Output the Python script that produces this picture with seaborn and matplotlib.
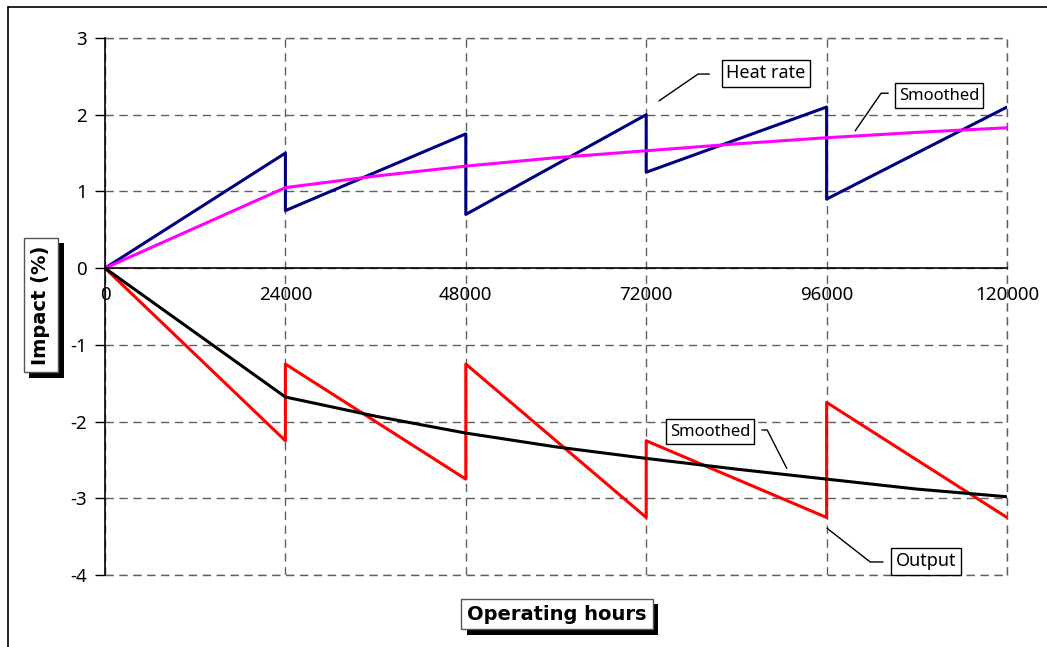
import numpy as np
import pandas as pd
import seaborn as sns
import matplotlib.pyplot as plt
import matplotlib.patheffects as pe
from matplotlib.lines import Line2D

# --- data ---
heat_hours = [0, 24000, 24000, 48000, 48000, 72000, 72000, 96000, 96000, 120000]
heat_rate = [0, 1.5, 0.75, 1.75, 0.7, 2.0, 1.25, 2.1, 0.9, 2.1]

smooth_hours = [0, 24000, 36000, 48000, 60000, 72000, 84000, 96000, 108000, 120000]
heat_smooth = [0, 1.05, 1.2, 1.33, 1.44, 1.53, 1.62, 1.70, 1.77, 1.83]

out_hours = [0, 24000, 24000, 48000, 48000, 72000, 72000, 96000, 96000, 120000]
output = [0, -2.25, -1.25, -2.75, -1.25, -3.25, -2.25, -3.25, -1.75, -3.25]

out_smooth = [0, -1.68, -1.93, -2.15, -2.33, -2.48, -2.62, -2.75, -2.88, -2.98]

x_ticks = [0, 24000, 48000, 72000, 96000, 120000]
y_ticks = [-4, -3, -2, -1, 0, 1, 2, 3]

sns.set_style("white")
plt.rcParams['font.family'] = ['Noto Sans', 'DejaVu Sans']
plt.rcParams['text.color'] = 'black'
plt.rcParams['xtick.color'] = 'black'
plt.rcParams['ytick.color'] = 'black'

fig = plt.figure(figsize=(10.47, 6.47), dpi=100)
ax = fig.add_axes([105 / 1047, 1 - 575 / 647, 902 / 1047, 537 / 647])

# dashed grid first, data on top
ax.set_xlim(0, 120000)
ax.set_ylim(-4, 3)
ax.set_xticks(x_ticks)
ax.set_yticks(y_ticks)
grid_kw = dict(color='#606060', ls=(0, (6, 4)), lw=1)
ax.grid(True, **grid_kw)
ax.set_axisbelow(True)
# outer edges of the plot area are just the dashed grid
ax.axvline(x_ticks[-1], clip_on=False, zorder=1, **grid_kw)
ax.axhline(y_ticks[-1], clip_on=False, zorder=1, **grid_kw)
ax.axhline(y_ticks[0], clip_on=False, zorder=1, **grid_kw)

sns.lineplot(x=heat_hours, y=heat_rate, color='#000080', lw=2.2, ax=ax,
             sort=False, estimator=None)
sns.lineplot(x=smooth_hours, y=heat_smooth, color='#FF00FF', lw=2.2, ax=ax,
             sort=False, estimator=None)
sns.lineplot(x=out_hours, y=output, color='#FF0000', lw=2.2, ax=ax,
             sort=False, estimator=None)
sns.lineplot(x=smooth_hours, y=out_smooth, color='black', lw=2.2, ax=ax,
             sort=False, estimator=None)

# axes look: x axis crosses at 0
for s in ['top', 'right']:
    ax.spines[s].set_visible(False)
ax.spines['bottom'].set_position(('data', 0))
ax.spines['bottom'].set_color('black')
ax.spines['bottom'].set_linewidth(1.2)
ax.spines['left'].set_color('black')
ax.spines['left'].set_linewidth(1.2)
ax.tick_params(axis='x', length=0, pad=13, labelsize=13.5, labelcolor='black')
ax.tick_params(axis='y', length=7, width=1, direction='out', color='black',
               left=True, pad=6, labelsize=13.5, labelcolor='black')
ax.set_xticklabels([str(v) for v in x_ticks])
ax.set_yticklabels([str(v) for v in y_ticks])

# boxed annotations with leader lines
def callout(text, box_xy, leader, size):
    ax.text(box_xy[0], box_xy[1], text, fontsize=size, ha='center', va='center',
            color='black',
            bbox=dict(boxstyle='square,pad=0.25', fc='white', ec='black', lw=1))
    lx, ly = zip(*leader)
    ax.plot(lx, ly, color='black', lw=1)

callout('Heat rate', (87900, 2.54),
        [(73700, 2.18), (78900, 2.53), (80400, 2.53)], 13)
callout('Smoothed', (110950, 2.25),
        [(99800, 1.79), (103250, 2.28), (104200, 2.28)], 12)
callout('Smoothed', (80500, -2.13),
        [(87400, -2.11), (88100, -2.11), (90700, -2.61)], 12)
callout('Output', (109200, -3.82),
        [(96050, -3.39), (101800, -3.83), (103500, -3.83)], 13)

# axis titles in shadowed boxes
shadow = [pe.withSimplePatchShadow(offset=(4, -4), shadow_rgbFace='black', alpha=1)]
box = dict(boxstyle='square,pad=0.3', fc='white', ec='#555555', lw=1)
t1 = fig.text(557 / 1047, 1 - 614 / 647, 'Operating hours', fontsize=14,
              family='DejaVu Sans', fontweight='bold', ha='center', va='center',
              bbox=box)
t2 = fig.text(41 / 1047, 1 - 305 / 647, 'Impact (%)', fontsize=14,
              family='DejaVu Sans', fontweight='bold', ha='center', va='center',
              rotation=90, bbox=dict(box, boxstyle='square,pad=0.4'))
fig.canvas.draw()
for t in (t1, t2):
    t.get_bbox_patch().set_path_effects(shadow)

# outer frame (left and top edges only)
fig.add_artist(Line2D([8 / 1047, 8 / 1047], [0, 1 - 7 / 647], color='black', lw=1.2))
fig.add_artist(Line2D([8 / 1047, 1], [1 - 7 / 647, 1 - 7 / 647], color='black', lw=1.2))

fig.savefig('out.png', dpi=100)
